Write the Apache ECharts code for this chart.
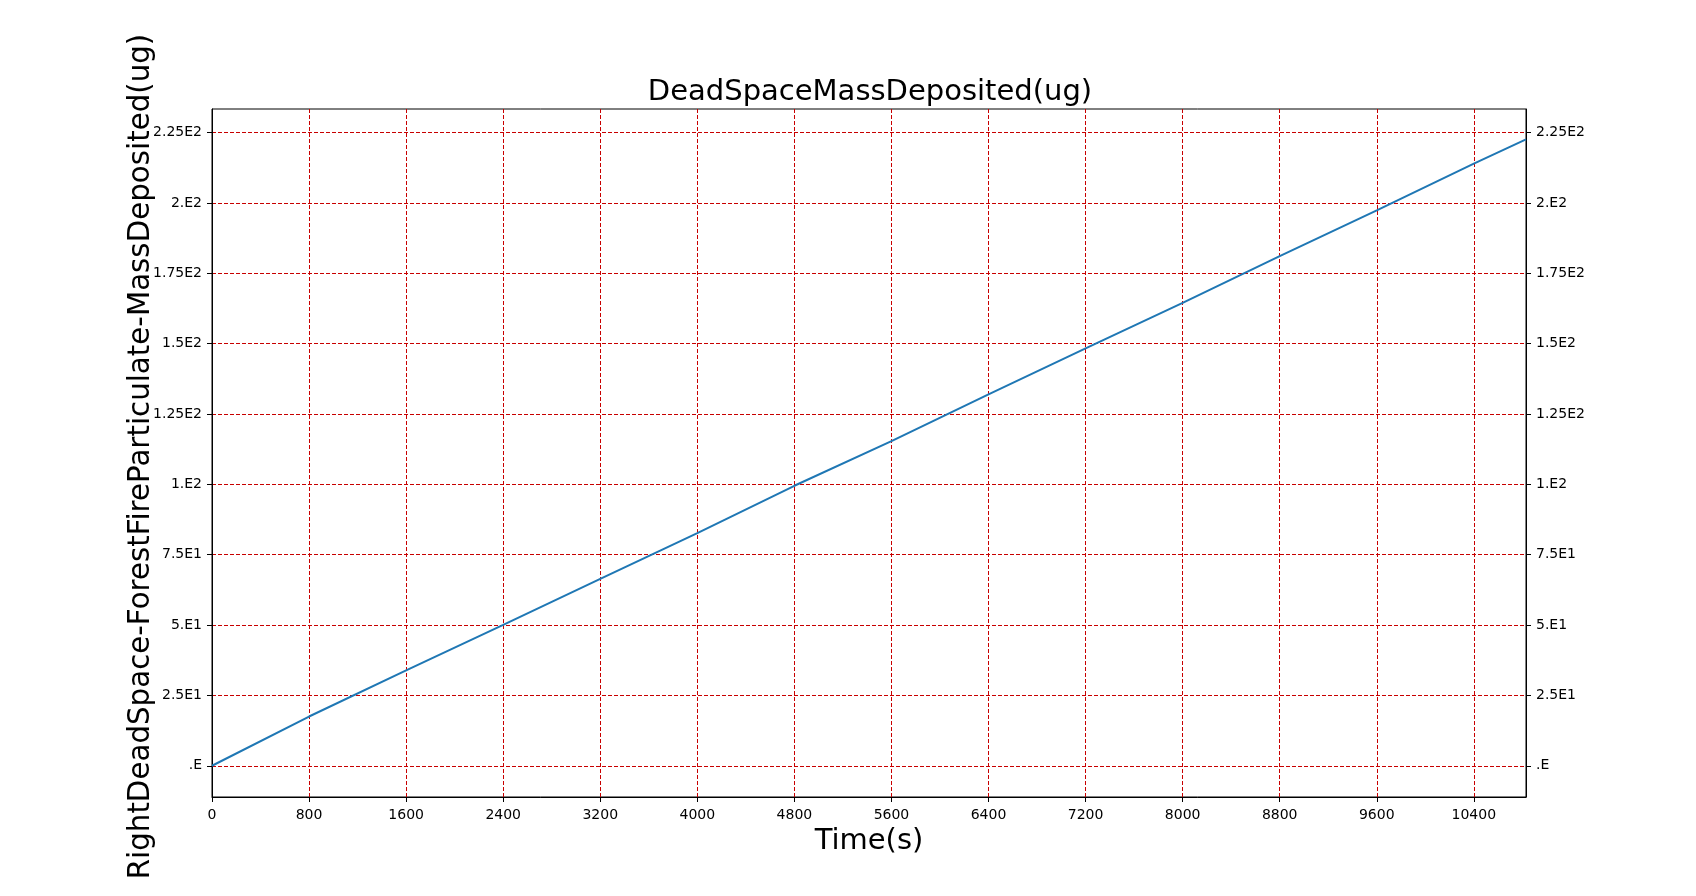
<!DOCTYPE html>
<html>
<head>
<meta charset="utf-8">
<script src="https://cdn.jsdelivr.net/npm/echarts@6/dist/echarts.min.js"></script>
<style>
html,body{margin:0;padding:0;background:#fff;}
#chart{width:1696px;height:896px;}
</style>
</head>
<body>
<div id="chart"></div>
<script>
// Data
var timeS = [0, 800, 1600, 2400, 3200, 4000, 4800, 5600, 6400, 7200, 8000, 8800, 9600, 10400, 10830];
var massDeposited = [0, 17.5, 33.9, 50.1, 66.4, 82.7, 99.5, 115.4, 132.0, 148.3, 164.5, 181.1, 197.4, 214.0, 222.6];
var yTickValues = [0, 25, 50, 75, 100, 125, 150, 175, 200, 225];
var yTickLabels = ['.E', '2.5E1', '5.E1', '7.5E1', '1.E2', '1.25E2', '1.5E2', '1.75E2', '2.E2', '2.25E2'];
var xTickValues = [0, 800, 1600, 2400, 3200, 4000, 4800, 5600, 6400, 7200, 8000, 8800, 9600, 10400];

var titleText = 'DeadSpaceMassDeposited(ug)';
var xName = 'Time(s)';
var yName = 'RightDeadSpace-ForestFireParticulate-MassDeposited(ug)';

var FONT = 'DejaVu Sans';
var GRID_RED = '#c80000';
var points = timeS.map(function (t, i) { return [t, massDeposited[i]]; });

function yLabel(v) {
  for (var i = 0; i < yTickValues.length; i++) {
    if (Math.abs(yTickValues[i] - v) < 1e-6) return yTickLabels[i];
  }
  return '';
}

var yMin = -11.1, yMax = 233.4;
var xMax = 10830;

function yAxisCfg(pos, isMain) {
  return {
    type: 'value',
    position: pos,
    min: yMin,
    max: yMax,
    name: isMain ? yName : '',
    nameLocation: 'middle',
    nameGap: 56,
    nameMoveOverlap: false,
    nameTextStyle: { fontFamily: FONT, fontSize: 29.3, color: '#000', padding: [0, 7, 0, 0] },
    axisLine: { show: true, lineStyle: { color: '#000', width: 1 } },
    axisTick: { show: true, inside: false, length: 5, lineStyle: { color: '#000' }, customValues: yTickValues },
    axisLabel: {
      show: true, margin: 10, fontFamily: FONT, fontSize: 14, color: '#000',
      customValues: yTickValues,
      formatter: function (v) { return yLabel(v); }
    },
    splitLine: isMain ? { show: true, lineStyle: { color: GRID_RED, width: 1, type: [4, 2] } } : { show: false }
  };
}

var chart = echarts.init(document.getElementById('chart'), null, { renderer: 'canvas' });
chart.setOption({
  backgroundColor: '#fff',
  animation: false,
  title: {
    text: titleText,
    left: 865,
    top: 73,
    textAlign: 'center',
    textStyle: { fontFamily: FONT, fontSize: 29, fontWeight: 'normal', color: '#000' }
  },
  grid: {
    left: 212, right: 170, top: 109, bottom: 99,
    show: true, borderColor: '#000', borderWidth: 1, backgroundColor: 'transparent',
    containLabel: false
  },
  xAxis: {
    type: 'value',
    min: 0,
    max: xMax,
    interval: 800,
    name: xName,
    nameLocation: 'middle',
    nameGap: 30,
    nameMoveOverlap: false,
    nameTextStyle: { fontFamily: FONT, fontSize: 29, color: '#000' },
    axisLine: { show: true, onZero: false, lineStyle: { color: '#000', width: 1 } },
    axisTick: { show: true, inside: false, length: 5, lineStyle: { color: '#000' }, customValues: xTickValues },
    axisLabel: {
      show: true, margin: 11, fontFamily: FONT, fontSize: 14, color: '#000',
      customValues: xTickValues,
      formatter: function (v) { return xTickValues.indexOf(v) >= 0 ? String(v) : ''; }
    },
    splitLine: { show: true, lineStyle: { color: GRID_RED, width: 1, type: [4, 2] } }
  },
  yAxis: [yAxisCfg('left', true), yAxisCfg('right', false)],
  series: [{
    type: 'line',
    data: points,
    xAxisIndex: 0,
    yAxisIndex: 0,
    showSymbol: false,
    symbol: 'none',
    smooth: false,
    lineStyle: { color: '#1f77b4', width: 2 },
    itemStyle: { color: '#1f77b4' },
    z: 5
  }]
});
</script>
</body>
</html>
